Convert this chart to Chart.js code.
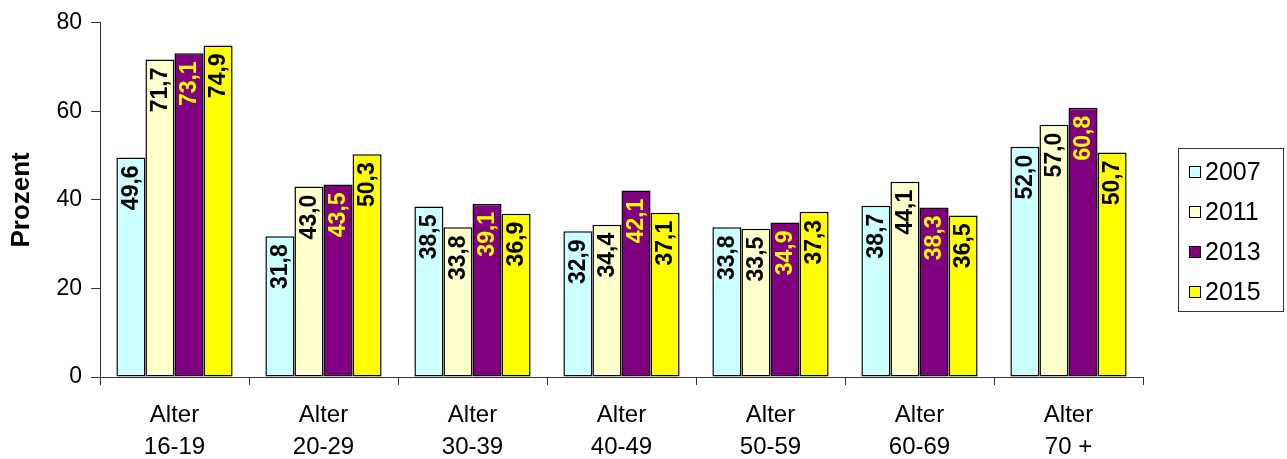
<!DOCTYPE html>
<html>
<head>
<meta charset="utf-8">
<script src="https://cdn.jsdelivr.net/npm/chart.js@4/dist/chart.umd.min.js"></script>
<style>
html,body{margin:0;padding:0;background:#fff;}
#wrap{width:1287px;height:459px;position:relative;}
</style>
</head>
<body>
<div id="wrap"><canvas id="c" width="1287" height="459"></canvas></div>
<script>
const categories = [['Alter','16-19'],['Alter','20-29'],['Alter','30-39'],['Alter','40-49'],['Alter','50-59'],['Alter','60-69'],['Alter','70 +']];
const seriesNames = ['2007','2011','2013','2015'];
const values2007 = [49.6, 31.8, 38.5, 32.9, 33.8, 38.7, 52.0];
const values2011 = [71.7, 43.0, 33.8, 34.4, 33.5, 44.1, 57.0];
const values2013 = [73.1, 43.5, 39.1, 42.1, 34.9, 38.3, 60.8];
const values2015 = [74.9, 50.3, 36.9, 37.1, 37.3, 36.5, 50.7];
const yTicks = [0, 20, 40, 60, 80];
const axisTitle = 'Prozent';

const fills = ['#CCFFFF', '#FFFFCC', '#800080', '#FFFF00'];
const labelColors = ['#000000', '#000000', '#FFFF00', '#000000'];
const FONT = '"Liberation Sans", Arial, sans-serif';

const labelPlugin = {
  id: 'barLabels',
  afterDatasetsDraw(chart) {
    const ctx = chart.ctx;
    chart.data.datasets.forEach((ds, di) => {
      const meta = chart.getDatasetMeta(di);
      meta.data.forEach((bar, i) => {
        const v = ds.data[i];
        const txt = v.toFixed(1).replace('.', ',');
        ctx.save();
        ctx.translate(bar.x + 1, bar.y + 8);
        ctx.rotate(-Math.PI / 2);
        ctx.font = 'bold 23px ' + FONT;
        ctx.fillStyle = labelColors[di];
        ctx.textAlign = 'right';
        ctx.textBaseline = 'middle';
        ctx.fillText(txt, 0, 0);
        ctx.restore();
      });
    });
  }
};

const legendPlugin = {
  id: 'boxLegend',
  afterDraw(chart) {
    const ctx = chart.ctx;
    const left = chart.chartArea.right + 35;
    const w = 105, h = 163;
    const top = chart.height / 2 - h / 2;
    ctx.save();
    ctx.strokeStyle = '#333';
    ctx.lineWidth = 1;
    ctx.strokeRect(left + 0.5, top + 0.5, w, h);
    ctx.font = '25px ' + FONT;
    ctx.textBaseline = 'middle';
    ctx.textAlign = 'left';
    seriesNames.forEach((n, i) => {
      const cy = top + 24 + i * 40;
      ctx.fillStyle = fills[i];
      ctx.fillRect(left + 11.5, cy - 5.5, 11, 11);
      ctx.strokeStyle = '#000';
      ctx.strokeRect(left + 11.5, cy - 5.5, 11, 11);
      ctx.fillStyle = '#000';
      ctx.fillText(n, left + 27, cy + 1);
    });
    ctx.restore();
  }
};

const datasets = [values2007, values2011, values2013, values2015].map((d, i) => ({
  label: seriesNames[i],
  data: d,
  backgroundColor: fills[i],
  borderColor: '#000',
  borderWidth: 1.5,
  borderSkipped: false,
  categoryPercentage: 0.78,
  barPercentage: 1.0
}));

new Chart(document.getElementById('c'), {
  type: 'bar',
  data: { labels: categories, datasets },
  plugins: [labelPlugin, legendPlugin],
  options: {
    responsive: false,
    animation: false,
    layout: { padding: { top: 18, right: 144, left: 0, bottom: 0 } },
    plugins: { legend: { display: false }, tooltip: { enabled: false } },
    scales: {
      x: {
        grid: { display: true, drawOnChartArea: false, drawTicks: true, tickLength: 8, offset: true, color: '#333' },
        border: { display: true, color: '#333', width: 1 },
        ticks: { color: '#000', font: { family: FONT, size: 24, lineHeight: 1.35 }, padding: 14, maxRotation: 0 },
        afterFit(s) { s.height = 82; }
      },
      y: {
        min: 0, max: 80,
        afterBuildTicks(s) { s.ticks = yTicks.map(v => ({ value: v })); },
        grid: { display: true, drawOnChartArea: false, drawTicks: true, tickLength: 9, color: '#333' },
        border: { display: true, color: '#333', width: 1 },
        ticks: { color: '#000', font: { family: FONT, size: 23 }, padding: 9 },
        title: { display: true, text: axisTitle, color: '#000', font: { family: FONT, size: 26, weight: 'bold' }, padding: { top: 6, bottom: 0 } },
        afterFit(s) { s.width = 100; }
      }
    }
  }
});
</script>
</body>
</html>
